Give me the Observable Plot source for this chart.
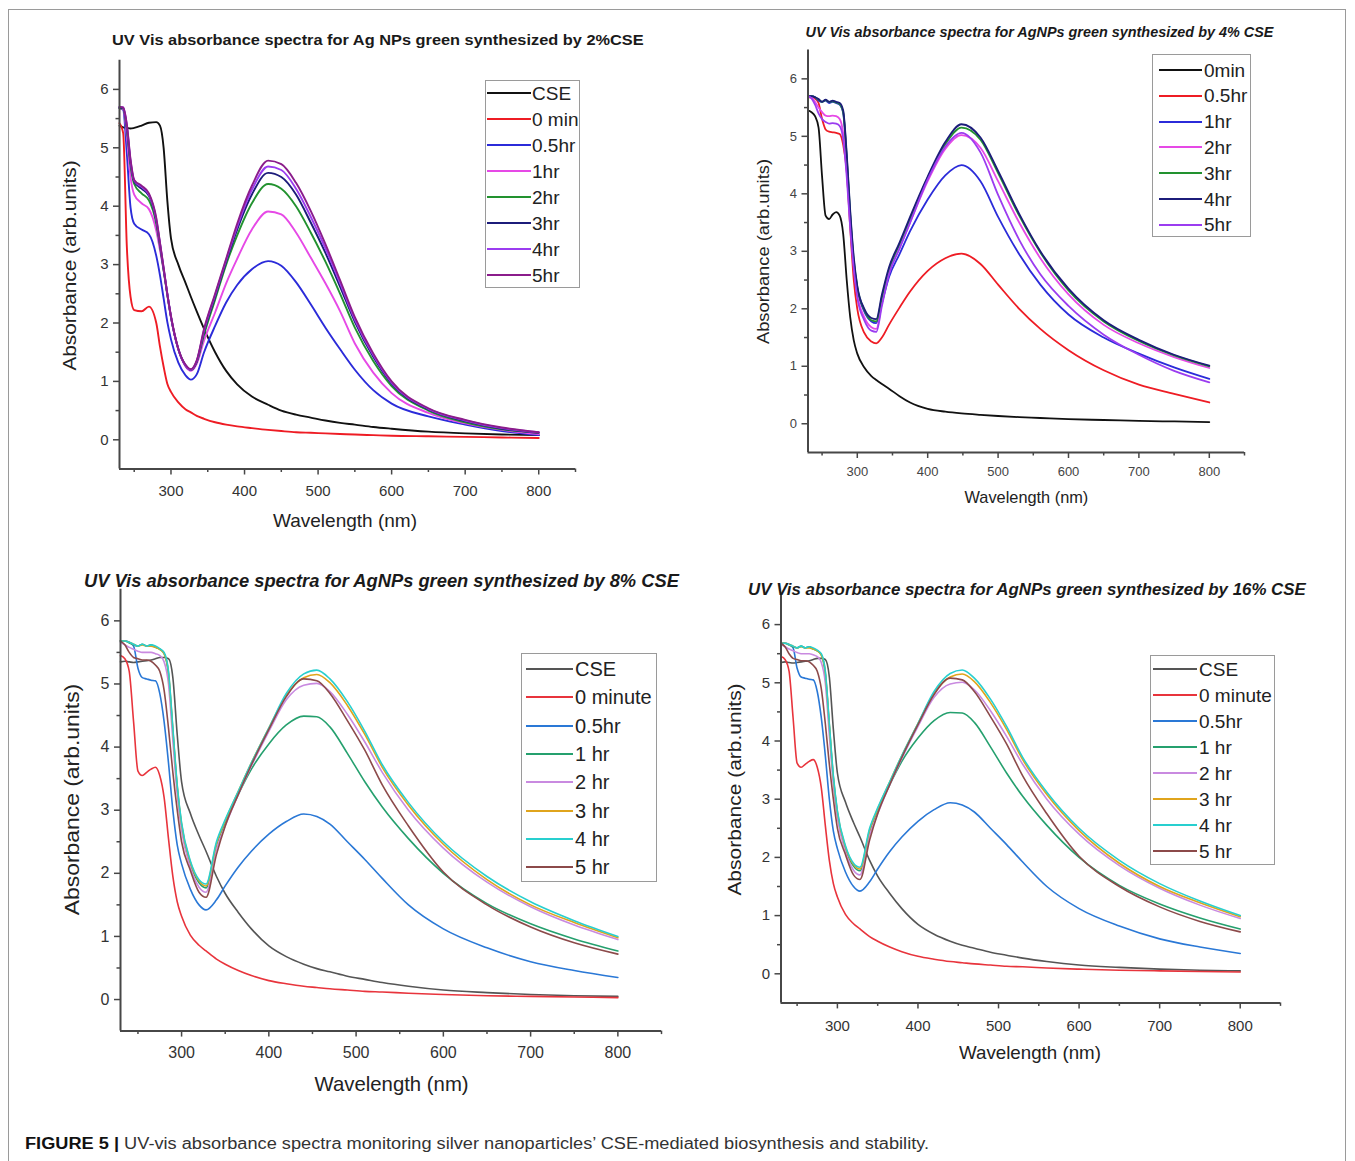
<!DOCTYPE html>
<html><head><meta charset="utf-8">
<script src="https://cdn.jsdelivr.net/npm/d3@7"></script>
<script src="https://cdn.jsdelivr.net/npm/@observablehq/plot@0.6"></script>
<style>
html,body{margin:0;padding:0;background:#fff;}
#root{position:relative;width:1355px;height:1161px;overflow:hidden;font-family:"Liberation Sans",Arial,sans-serif;background:#fff;}
.frame{position:absolute;left:8px;top:9px;width:1338px;height:1180px;border:1px solid #9a9a9a;box-sizing:border-box;}
.legend{position:absolute;border:1px solid #9a9a9a;background:#fff;box-sizing:border-box;}
</style></head>
<body><div id="root"><div class="frame"></div></div>
<script>
// ---------- axes ----------
const X_DOMAIN = [230, 850];
const Y_DOMAIN = [-0.5, 6.5];
const X_MAJOR = [300, 400, 500, 600, 700, 800];
const X_MINOR = [250, 350, 450, 550, 650, 750, 850];
const Y_MAJOR = [0, 1, 2, 3, 4, 5, 6];
const Y_MINOR = [0.5, 1.5, 2.5, 3.5, 4.5, 5.5];

// ---------- panel 1 : 2% CSE ----------
const P1_TITLE = "UV Vis absorbance spectra for Ag NPs green synthesized by 2%CSE";
const P1_NAMES = ["CSE", "0 min", "0.5hr", "1hr", "2hr", "3hr", "4hr", "5hr"];
const P1_COLORS = ["#111111", "#ee1c24", "#2b2bd9", "#e649e6", "#22922f", "#1c1c7a", "#9b3cf0", "#8b1c8b"];
const P1_WL = [230,235,240,245,250,260,270,280,285,290,295,300,310,320,327,335,345,360,375,390,410,432,450,470,490,510,530,550,575,600,650,700,750,800];
const p1_cse    = [5.38,5.35,5.34,5.33,5.34,5.38,5.43,5.44,5.38,5.0,4.1,3.45,3.0,2.68,2.45,2.2,1.9,1.5,1.18,0.95,0.74,0.6,0.5,0.43,0.38,0.33,0.29,0.26,0.22,0.19,0.14,0.11,0.09,0.08];
const p1_0min   = [5.42,5.25,3.3,2.45,2.22,2.2,2.28,2.0,1.6,1.25,0.96,0.82,0.64,0.52,0.47,0.41,0.36,0.3,0.26,0.23,0.2,0.17,0.15,0.13,0.12,0.11,0.1,0.09,0.08,0.07,0.06,0.05,0.04,0.03];
const p1_05hr   = [5.68,5.65,4.9,3.98,3.7,3.6,3.52,3.15,2.82,2.42,2.02,1.72,1.32,1.1,1.03,1.12,1.5,1.95,2.35,2.65,2.92,3.06,2.98,2.7,2.32,1.92,1.55,1.2,0.85,0.62,0.4,0.26,0.15,0.08];
const p1_1hr    = [5.68,5.66,5.2,4.5,4.2,4.05,3.95,3.58,3.25,2.9,2.5,2.1,1.55,1.25,1.18,1.3,1.7,2.18,2.68,3.1,3.6,3.91,3.86,3.55,3.12,2.68,2.2,1.65,1.15,0.8,0.46,0.28,0.17,0.1];
const p1_2hr    = [5.68,5.67,5.3,4.7,4.38,4.22,4.1,3.7,3.32,2.9,2.48,2.1,1.55,1.27,1.2,1.33,1.8,2.4,3.0,3.5,4.05,4.38,4.3,4.0,3.55,3.05,2.5,1.92,1.35,0.92,0.5,0.3,0.18,0.12];
const p1_3hr    = [5.69,5.68,5.35,4.75,4.42,4.3,4.18,3.75,3.35,2.92,2.5,2.1,1.55,1.27,1.2,1.34,1.85,2.45,3.05,3.6,4.2,4.57,4.5,4.2,3.72,3.2,2.62,2.02,1.42,0.96,0.52,0.32,0.19,0.12];
const p1_4hr    = [5.7,5.69,5.38,4.78,4.44,4.33,4.2,3.78,3.37,2.94,2.5,2.11,1.55,1.27,1.2,1.35,1.88,2.48,3.08,3.65,4.28,4.68,4.62,4.3,3.82,3.28,2.68,2.06,1.45,0.98,0.53,0.33,0.2,0.13];
const p1_5hr    = [5.7,5.69,5.4,4.8,4.45,4.35,4.22,3.8,3.38,2.95,2.5,2.12,1.56,1.28,1.21,1.36,1.9,2.5,3.1,3.7,4.35,4.78,4.72,4.4,3.92,3.35,2.73,2.1,1.48,1.0,0.54,0.34,0.21,0.13];

// ---------- panel 2 : 4% CSE ----------
const P2_TITLE = "UV Vis absorbance spectra for AgNPs green synthesized by 4% CSE";
const P2_NAMES = ["0min", "0.5hr", "1hr", "2hr", "3hr", "4hr", "5hr"];
const P2_COLORS = ["#111111", "#ee1c24", "#2b2bd9", "#e649e6", "#22922f", "#1c1c7a", "#9b3cf0"];
const P2_WL = [230,235,240,245,250,255,260,265,270,275,280,285,290,295,300,310,320,327,335,345,360,375,400,425,448,475,500,530,560,600,650,700,750,800];
const p2_0min = [5.45,5.42,5.35,5.15,4.3,3.62,3.56,3.64,3.68,3.62,3.3,2.5,1.85,1.45,1.22,0.98,0.83,0.76,0.69,0.61,0.48,0.37,0.26,0.21,0.18,0.155,0.135,0.115,0.1,0.08,0.065,0.05,0.04,0.03];
const p2_05hr = [5.68,5.68,5.66,5.58,5.3,5.12,5.08,5.07,5.06,5.04,4.85,4.4,3.4,2.5,2.0,1.58,1.43,1.4,1.5,1.72,2.02,2.3,2.66,2.88,2.96,2.78,2.42,2.0,1.65,1.28,0.93,0.68,0.52,0.37];
const p2_1hr  = [5.7,5.7,5.68,5.62,5.6,5.62,5.58,5.6,5.58,5.55,5.4,4.6,3.6,2.8,2.35,1.95,1.78,1.75,2.1,2.55,2.95,3.35,3.9,4.32,4.5,4.22,3.6,2.95,2.42,1.9,1.5,1.22,0.98,0.78];
const p2_2hr  = [5.7,5.68,5.6,5.5,5.42,5.36,5.35,5.36,5.35,5.3,5.05,4.4,3.5,2.75,2.25,1.85,1.68,1.65,2.1,2.62,3.05,3.5,4.22,4.78,5.02,4.8,4.22,3.5,2.88,2.25,1.72,1.4,1.16,0.97];
const p2_3hr  = [5.7,5.7,5.68,5.64,5.6,5.63,5.6,5.61,5.59,5.56,5.42,4.65,3.65,2.85,2.38,1.98,1.8,1.78,2.2,2.68,3.12,3.56,4.28,4.86,5.15,4.94,4.36,3.62,2.98,2.32,1.78,1.44,1.19,1.0];
const p2_4hr  = [5.7,5.7,5.68,5.65,5.6,5.64,5.6,5.62,5.6,5.58,5.45,4.7,3.7,2.9,2.4,2.0,1.84,1.82,2.25,2.72,3.15,3.6,4.3,4.9,5.21,4.98,4.4,3.65,3.0,2.35,1.8,1.46,1.2,1.01];
const p2_5hr  = [5.7,5.66,5.55,5.4,5.3,5.25,5.22,5.23,5.22,5.18,4.95,4.3,3.4,2.7,2.2,1.8,1.62,1.6,2.05,2.6,3.05,3.5,4.25,4.82,5.06,4.72,3.98,3.2,2.6,2.05,1.55,1.2,0.92,0.72];

// ---------- panels 3 & 4 : 8% and 16% CSE (the two pictures read identically) ----------
const P3_TITLE = "UV Vis absorbance spectra for AgNPs green synthesized by 8% CSE";
const P4_TITLE = "UV Vis absorbance spectra for AgNPs green synthesized by 16% CSE";
const P34_NAMES = ["CSE", "0 minute", "0.5hr", "1 hr", "2 hr", "3 hr", "4 hr", "5 hr"];
const P34_COLORS = ["#555555", "#e8343c", "#2a78d6", "#25a06e", "#c98ae0", "#e0a41c", "#28cfcf", "#8c4a4a"];
const P34_WL = [230,235,240,245,250,255,260,265,270,275,280,285,290,295,300,310,320,328,340,350,365,380,400,420,440,455,470,490,510,530,560,600,650,700,750,800];
const p34_cse   = [5.35,5.36,5.35,5.34,5.35,5.36,5.37,5.38,5.4,5.42,5.42,5.4,5.1,4.2,3.45,2.95,2.6,2.35,1.95,1.68,1.38,1.12,0.85,0.68,0.56,0.49,0.44,0.37,0.32,0.27,0.21,0.15,0.11,0.08,0.06,0.05];
const p34_0min  = [5.45,5.4,5.2,4.4,3.62,3.55,3.6,3.65,3.68,3.55,3.2,2.55,1.95,1.55,1.32,1.02,0.86,0.77,0.64,0.56,0.46,0.38,0.3,0.25,0.21,0.19,0.17,0.15,0.13,0.12,0.1,0.08,0.06,0.05,0.04,0.03];
const p34_05hr  = [5.68,5.68,5.66,5.6,5.25,5.1,5.08,5.06,5.05,4.85,4.4,3.75,3.0,2.45,2.15,1.75,1.5,1.42,1.58,1.8,2.1,2.35,2.62,2.82,2.94,2.9,2.78,2.5,2.22,1.92,1.5,1.12,0.82,0.6,0.46,0.35];
const p34_1hr   = [5.68,5.68,5.65,5.62,5.6,5.63,5.6,5.62,5.58,5.55,5.48,5.15,4.25,3.35,2.75,2.15,1.85,1.77,2.45,2.8,3.25,3.65,4.05,4.35,4.49,4.48,4.32,3.9,3.45,3.05,2.55,2.0,1.52,1.2,0.96,0.77];
const p34_2hr   = [5.66,5.62,5.58,5.55,5.52,5.5,5.5,5.5,5.48,5.45,5.35,5.0,4.1,3.25,2.68,2.1,1.78,1.7,2.38,2.75,3.25,3.7,4.25,4.75,4.98,5.01,4.88,4.52,4.08,3.6,3.0,2.4,1.86,1.47,1.18,0.95];
const p34_3hr   = [5.68,5.68,5.66,5.63,5.6,5.62,5.6,5.6,5.58,5.55,5.48,5.18,4.28,3.38,2.78,2.18,1.88,1.8,2.47,2.83,3.3,3.75,4.3,4.82,5.1,5.15,5.02,4.66,4.2,3.68,3.08,2.46,1.9,1.5,1.22,0.98];
const p34_4hr   = [5.68,5.68,5.66,5.63,5.6,5.63,5.6,5.62,5.6,5.56,5.5,5.2,4.3,3.4,2.8,2.2,1.9,1.83,2.5,2.85,3.3,3.75,4.3,4.85,5.16,5.22,5.08,4.72,4.25,3.72,3.12,2.5,1.95,1.55,1.25,1.0];
const p34_5hr   = [5.68,5.62,5.5,5.42,5.4,5.38,5.38,5.36,5.3,5.2,4.9,4.3,3.6,3.0,2.5,2.05,1.7,1.62,2.3,2.75,3.25,3.72,4.28,4.8,5.08,5.05,4.85,4.42,3.95,3.4,2.75,2.02,1.5,1.15,0.9,0.72];

const Y_LABEL = "Absorbance (arb.units)";
const X_LABEL = "Wavelength (nm)";
const CAPTION_BOLD = "FIGURE 5 | ";
const CAPTION_TEXT = "UV-vis absorbance spectra monitoring silver nanoparticles\u2019 CSE-mediated biosynthesis and stability.";

// ---------- helpers ----------
const root = document.getElementById("root");
const AXIS = "#474747";
const FONT = "'Liberation Sans', Arial, sans-serif";

function addText(parts, o) {
  const s = document.createElement("span");
  (Array.isArray(parts) ? parts : [[parts, null]]).forEach(([t, st]) => {
    const e = document.createElement("span");
    e.textContent = t;
    if (st) e.style.cssText = st;
    s.appendChild(e);
  });
  s.style.cssText = `position:absolute;white-space:nowrap;font:${o.font};line-height:1;color:${o.color || "#222"};`;
  root.appendChild(s);
  const w = s.offsetWidth, h = s.offsetHeight;
  const k = o.w ? o.w / w : 1;
  if (o.anchor === "start") { s.style.left = o.x + "px"; s.style.transformOrigin = "0 50%"; }
  else { s.style.left = (o.x - w / 2) + "px"; s.style.transformOrigin = "50% 50%"; }
  s.style.top = (o.y - h / 2) + "px";
  s.style.transform = (o.rot ? `rotate(${o.rot}deg) ` : "") + `scaleX(${k})`;
}

function drawPanel(P) {
  const rows = P.names.flatMap((n, i) => P.wl.map((w, j) => ({series: n, wl: w, a: P.values[i][j]})));
  const axisStyle = {stroke: AXIS, strokeWidth: 1.5, fill: P.tickColor, fontSize: P.tickFont, label: null};
  const chart = Plot.plot({
    width: P.box[2], height: P.box[3],
    marginLeft: P.margin[0], marginRight: P.margin[1], marginTop: P.margin[2], marginBottom: P.margin[3],
    style: {fontFamily: FONT, background: "transparent", overflow: "visible"},
    x: {domain: X_DOMAIN},
    y: {domain: Y_DOMAIN},
    marks: [
      ...P.names.map((n, i) => Plot.line(rows.filter(r => r.series === n),
        {x: "wl", y: "a", stroke: P.colors[i], strokeWidth: P.sw, curve: "monotone-x"})),
      Plot.axisX({...axisStyle, ticks: X_MAJOR, tickSize: 6, tickPadding: P.xPad, tickFormat: d => String(d)}),
      Plot.axisX({...axisStyle, ticks: X_MINOR, tickSize: 3.5, tickFormat: () => ""}),
      Plot.axisY({...axisStyle, ticks: Y_MAJOR, tickSize: 6, tickPadding: P.yPad, tickFormat: d => String(d)}),
      Plot.axisY({...axisStyle, ticks: Y_MINOR, tickSize: 3.5, tickFormat: () => ""}),
      Plot.ruleX([X_DOMAIN[0]], {stroke: AXIS, strokeWidth: 2}),
      Plot.ruleY([Y_DOMAIN[0]], {stroke: AXIS, strokeWidth: 2})
    ]
  });
  chart.style.position = "absolute";
  chart.style.left = P.box[0] + "px";
  chart.style.top = P.box[1] + "px";
  root.appendChild(chart);

  // title and axis labels
  addText(P.title, {x: P.titlePos[0], y: P.titlePos[1], w: P.titlePos[2], font: P.titleFont, color: "#1a1a1a"});
  addText(X_LABEL, {x: P.xLab[0], y: P.xLab[1], w: P.xLab[2], font: P.labFont, color: "#222"});
  addText(Y_LABEL, {x: P.yLab[0], y: P.yLab[1], w: P.yLab[2], font: P.labFont, color: "#222", rot: -90});

  // legend
  const L = P.legend;
  const box = document.createElement("div");
  box.className = "legend";
  box.style.left = L.box[0] + "px"; box.style.top = L.box[1] + "px";
  box.style.width = L.box[2] + "px"; box.style.height = L.box[3] + "px";
  root.appendChild(box);
  P.names.forEach((n, i) => {
    const y = L.y0 + i * L.dy;
    const ln = document.createElement("div");
    ln.style.cssText = `position:absolute;left:${L.lx[0]}px;top:${y - 1}px;width:${L.lx[1] - L.lx[0]}px;height:2px;background:${P.colors[i]};`;
    root.appendChild(ln);
    addText(n, {x: L.tx, y: y, font: L.font, color: "#222", anchor: "start"});
  });
}

// ---------- draw ----------
drawPanel({
  title: P1_TITLE, names: P1_NAMES, colors: P1_COLORS, wl: P1_WL,
  values: [p1_cse, p1_0min, p1_05hr, p1_1hr, p1_2hr, p1_3hr, p1_4hr, p1_5hr],
  box: [20, 40, 580, 470], margin: [99, 25, 19.7, 41.5],
  sw: 1.9, tickFont: 15, tickColor: "#333", xPad: 10, yPad: 5,
  titlePos: [378, 39, 532], titleFont: `bold 15px ${FONT}`,
  labFont: `19px ${FONT}`, xLab: [345, 520, 144], yLab: [69, 265, 210],
  legend: {box: [485, 80, 95, 208], lx: [487, 531], tx: 532, y0: 93, dy: 26, font: `19px ${FONT}`}
});
drawPanel({
  title: P2_TITLE, names: P2_NAMES, colors: P2_COLORS, wl: P2_WL,
  values: [p2_0min, p2_05hr, p2_1hr, p2_2hr, p2_3hr, p2_4hr, p2_5hr],
  box: [720, 30, 560, 450], margin: [87.5, 36, 19.6, 28],
  sw: 1.8, tickFont: 13, tickColor: "#444", xPad: 8, yPad: 5,
  titlePos: [1039, 31.5, 468], titleFont: `italic bold 14px ${FONT}`,
  labFont: `17px ${FONT}`, xLab: [1026, 497, 124], yLab: [764, 251, 185],
  legend: {box: [1152, 54, 99, 183], lx: [1159, 1202], tx: 1204, y0: 70, dy: 25.8, font: `19px ${FONT}`}
});
drawPanel({
  title: P3_TITLE, names: P34_NAMES, colors: P34_COLORS, wl: P34_WL,
  values: [p34_cse, p34_0min, p34_05hr, p34_1hr, p34_2hr, p34_3hr, p34_4hr, p34_5hr],
  box: [30, 570, 660, 500], margin: [90, 29, 18.8, 39.4],
  sw: 1.6, tickFont: 16, tickColor: "#333", xPad: 10, yPad: 5,
  titlePos: [381.5, 581, 595], titleFont: `italic bold 18px ${FONT}`,
  labFont: `21px ${FONT}`, xLab: [391.5, 1083, 154], yLab: [71, 799, 231],
  legend: {box: [521, 653, 136, 229], lx: [526, 573], tx: 575, y0: 669, dy: 28.3, font: `20px ${FONT}`}
});
drawPanel({
  title: P4_TITLE, names: P34_NAMES, colors: P34_COLORS, wl: P34_WL,
  values: [p34_cse, p34_0min, p34_05hr, p34_1hr, p34_2hr, p34_3hr, p34_4hr, p34_5hr],
  box: [700, 575, 600, 460], margin: [80.5, 20, 20, 32.6],
  sw: 1.6, tickFont: 15, tickColor: "#333", xPad: 11, yPad: 5,
  titlePos: [1027, 589, 558], titleFont: `italic bold 17px ${FONT}`,
  labFont: `19px ${FONT}`, xLab: [1030, 1052, 142], yLab: [734, 789, 212],
  legend: {box: [1150, 655, 125, 210], lx: [1153, 1197], tx: 1199, y0: 669, dy: 26, font: `19px ${FONT}`}
});

// caption
addText([[CAPTION_BOLD, "font-weight:bold;color:#111;"], [CAPTION_TEXT, "color:#333;"]],
  {x: 25, y: 1144, w: 904, font: `16px ${FONT}`, anchor: "start", color: "#333"});
</script>
</body></html>
